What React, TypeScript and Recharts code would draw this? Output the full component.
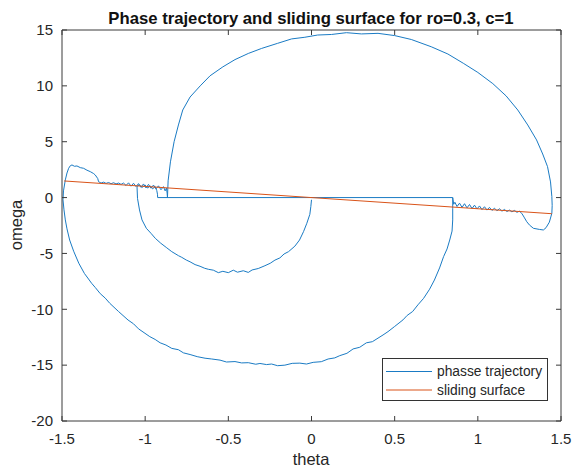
import React from 'react';
import { LineChart, Line, XAxis, YAxis, Legend, Label } from 'recharts';

// ---- tick labels / names ----
const xTicks = [-1.5, -1, -0.5, 0, 0.5, 1, 1.5];
const yTicks = [-20, -15, -10, -5, 0, 5, 10, 15];
const seriesNames = ['phasse trajectory', 'sliding surface'];
const seriesColors = ['#1a7bc4', '#D95319'];

// ---- phase trajectory segments [theta, omega], in drawing order ----
const innerLoop: [number, number][] = [
  [0.0, -0.2], [-0.004, -0.8], [-0.01, -1.5], [-0.028, -2.3], [-0.048, -3.05], [-0.072, -3.8],
  [-0.1, -4.35], [-0.138, -4.84], [-0.165, -5.05], [-0.19, -5.4], [-0.22, -5.6], [-0.248, -5.88],
  [-0.28, -6.1], [-0.32, -6.35], [-0.357, -6.48], [-0.38, -6.7], [-0.41, -6.55], [-0.445, -6.68],
  [-0.47, -6.5], [-0.5, -6.72], [-0.533, -6.6], [-0.56, -6.72], [-0.59, -6.5], [-0.62, -6.42],
  [-0.642, -6.33], [-0.67, -6.15], [-0.7, -6.0], [-0.73, -5.75], [-0.753, -5.59], [-0.78, -5.35],
  [-0.8, -5.2], [-0.84, -4.84], [-0.87, -4.5], [-0.906, -4.09], [-0.939, -3.65], [-0.965, -3.2],
  [-0.993, -2.75], [-1.019, -2.0], [-1.034, -1.11], [-1.046, -0.07], [-1.049, 0.98],
];

const leftSlideA: [number, number][] = [
  [-1.035, 1.15], [-1.02, 0.9], [-1.0, 1.12], [-0.985, 0.85], [-0.97, 1.05], [-0.955, 0.78],
  [-0.94, 0.98], [-0.93, 0.62], [-0.926, 0.3], [-0.925, 0],
];

const lowerArc: [number, number][] = [
  [0.849, 0], [0.849, -1.0], [0.849, -2.0], [0.845, -3.0], [0.831, -3.8], [0.815, -4.6],
  [0.794, -5.29], [0.77, -6.3], [0.739, -7.38], [0.71, -8.2], [0.674, -9.02], [0.64, -9.6],
  [0.608, -10.2], [0.575, -10.55], [0.55, -10.95], [0.498, -11.56], [0.46, -12.0], [0.43, -12.3],
  [0.366, -12.9], [0.33, -13.0], [0.29, -13.4], [0.25, -13.55], [0.213, -13.94], [0.17, -14.15],
  [0.14, -14.35], [0.1, -14.45], [0.059, -14.69], [0.01, -14.75], [-0.03, -14.9], [-0.07, -14.82],
  [-0.116, -14.84], [-0.16, -15.0], [-0.204, -15.05], [-0.24, -14.9], [-0.27, -14.95], [-0.31, -14.85],
  [-0.335, -14.92], [-0.38, -14.78], [-0.42, -14.8], [-0.46, -14.68], [-0.511, -14.72], [-0.55, -14.55],
  [-0.6, -14.45], [-0.64, -14.38], [-0.687, -14.24], [-0.73, -14.05], [-0.77, -13.9], [-0.8, -13.62],
  [-0.84, -13.5], [-0.875, -13.2], [-0.91, -13.0], [-0.94, -12.7], [-0.972, -12.45], [-1.04, -11.75],
  [-1.07, -11.3], [-1.103, -10.96], [-1.16, -10.2], [-1.213, -9.46], [-1.24, -9.0], [-1.27, -8.6],
  [-1.3, -8.05], [-1.322, -7.67], [-1.345, -7.2], [-1.365, -6.8], [-1.399, -5.88], [-1.43, -4.8],
  [-1.454, -3.8], [-1.47, -2.8], [-1.48, -2.0], [-1.488, -1.1], [-1.494, -0.2], [-1.491, 0.6],
  [-1.48, 1.58], [-1.47, 2.2], [-1.46, 2.62], [-1.45, 2.85], [-1.44, 2.92], [-1.425, 2.8],
  [-1.41, 2.83], [-1.39, 2.68], [-1.37, 2.62], [-1.35, 2.45], [-1.33, 2.32], [-1.31, 2.15],
  [-1.3, 2.02], [-1.285, 1.7], [-1.28, 1.42],
];

const leftSlideB: [number, number][] = [
  [-1.265, 1.3], [-1.25, 1.38], [-1.235, 1.27], [-1.22, 1.35], [-1.205, 1.24], [-1.19, 1.33],
  [-1.175, 1.22], [-1.16, 1.3], [-1.145, 1.18], [-1.13, 1.3], [-1.115, 1.08], [-1.1, 1.32],
  [-1.085, 1.02], [-1.07, 1.28], [-1.055, 0.98], [-1.04, 1.25], [-1.025, 0.92], [-1.01, 1.22],
  [-0.995, 0.86], [-0.98, 1.18], [-0.965, 0.84], [-0.95, 1.12], [-0.935, 0.78], [-0.92, 1.05],
  [-0.905, 0.7], [-0.89, 0.98], [-0.88, 0.6], [-0.872, 0.85], [-0.868, 0.4], [-0.866, 0],
];

const upperArc: [number, number][] = [
  [-0.862, 1.5], [-0.848, 3.2], [-0.826, 5.0], [-0.8, 6.5], [-0.774, 7.84], [-0.73, 9.0],
  [-0.669, 10.0], [-0.61, 10.9], [-0.533, 11.7], [-0.46, 12.35], [-0.38, 12.9], [-0.3, 13.35],
  [-0.205, 13.8], [-0.12, 14.2], [-0.04, 14.35], [0.037, 14.55], [0.12, 14.6], [0.21, 14.76],
  [0.3, 14.65], [0.4, 14.7], [0.5, 14.5], [0.6, 14.15], [0.72, 13.5], [0.82, 12.85],
  [0.915, 12.0], [1.0, 11.2], [1.09, 10.2], [1.17, 9.1], [1.24, 7.84], [1.3, 6.5],
  [1.353, 5.16], [1.39, 3.9], [1.419, 2.77], [1.437, 1.4], [1.445, 0.08], [1.447, -0.7],
  [1.445, -1.41], [1.43, -2.2], [1.41, -2.7], [1.394, -2.9], [1.37, -2.85], [1.334, -2.75],
  [1.31, -2.45], [1.294, -2.16], [1.278, -1.75], [1.264, -1.41],
];

const rightSlide: [number, number][] = [
  [1.25, -1.22], [1.235, -1.32], [1.22, -1.15], [1.205, -1.28], [1.19, -1.12], [1.175, -1.25],
  [1.16, -1.06], [1.145, -1.22], [1.13, -1.0], [1.115, -1.18], [1.1, -0.95], [1.085, -1.15],
  [1.07, -0.88], [1.055, -1.12], [1.04, -0.82], [1.025, -1.08], [1.01, -0.75], [0.995, -1.02],
  [0.98, -0.68], [0.965, -0.98], [0.95, -0.62], [0.935, -0.92], [0.92, -0.55], [0.905, -0.88],
  [0.89, -0.5], [0.875, -0.8], [0.862, -0.42], [0.855, -0.6], [0.851, -0.2], [0.849, 0],
];

// ---- sliding surface (omega = -c*theta, c=1) ----
const surfaceTheta = [-1.487, 1.445];
const surfaceOmega = [1.487, -1.445];

const trajectory = [...innerLoop, ...leftSlideA, ...lowerArc, ...leftSlideB, ...upperArc, ...rightSlide].map(
  ([theta, omega]) => ({ theta, omega })
);
const surface = surfaceTheta.map((theta, i) => ({ theta, omega: surfaceOmega[i] }));

const axisColor = '#3a3a3a';
const textColor = '#262626';

const renderLegend = () => (
  <svg width={166} height={43} style={{ display: 'block' }}>
    <rect x={0.5} y={0.5} width={165} height={42} fill="#ffffff" stroke="#333333" strokeWidth={1} />
    {seriesNames.map((name, i) => (
      <g key={name}>
        <line x1={4} x2={50} y1={13.5 + i * 18.5} y2={13.5 + i * 18.5} stroke={seriesColors[i]} strokeWidth={1} />
        <text x={55} y={13.5 + i * 18.5} dy="0.35em" fontSize={13.8} fill={textColor}>
          {name}
        </text>
      </g>
    ))}
  </svg>
);

export default function App() {
  return (
    <div style={{ position: 'absolute', left: 0, top: 0, width: 572, height: 468, background: '#fff', fontFamily: '"Liberation Sans", Arial, sans-serif' }}>
      <LineChart width={572} height={468} margin={{ top: 29, right: 10, bottom: 0, left: 0 }}>
        <XAxis
          xAxisId="bottom"
          dataKey="theta"
          type="number"
          domain={[-1.5, 1.5]}
          ticks={xTicks}
          interval={0}
          allowDataOverflow
          height={47}
          tickSize={-5}
          tickMargin={17}
          stroke={axisColor}
          tick={{ fill: textColor, fontSize: 15 }}
          tickLine={{ stroke: axisColor }}
          axisLine={{ stroke: axisColor }}
          label={
            <Label
              content={() => (
                <text x={311} y={465} textAnchor="middle" fontSize={16.5} fill={textColor}>
                  theta
                </text>
              )}
            />
          }
        />
        <XAxis
          xAxisId="top"
          orientation="top"
          dataKey="theta"
          type="number"
          domain={[-1.5, 1.5]}
          ticks={xTicks}
          interval={0}
          allowDataOverflow
          height={1}
          tickSize={-5}
          tickFormatter={() => ''}
          stroke={axisColor}
          tickLine={{ stroke: axisColor }}
          axisLine={{ stroke: axisColor }}
          label={
            <Label
              content={() => (
                <text x={311} y={24} textAnchor="middle" fontSize={16.7} fontWeight="bold" fill="#111111">
                  Phase trajectory and sliding surface for ro=0.3, c=1
                </text>
              )}
            />
          }
        />
        <YAxis
          yAxisId="left"
          type="number"
          domain={[-20, 15]}
          ticks={yTicks}
          interval={0}
          allowDataOverflow
          width={62}
          tickSize={-5}
          tickMargin={14}
          stroke={axisColor}
          tick={{ fill: textColor, fontSize: 15 }}
          tickLine={{ stroke: axisColor }}
          axisLine={{ stroke: axisColor }}
          label={
            <Label
              content={() => (
                <text x={22} y={225} transform="rotate(-90 22 225)" textAnchor="middle" fontSize={16.5} fill={textColor}>
                  omega
                </text>
              )}
            />
          }
        />
        <YAxis
          yAxisId="right"
          orientation="right"
          type="number"
          domain={[-20, 15]}
          ticks={yTicks}
          interval={0}
          allowDataOverflow
          width={1}
          tickSize={-5}
          tickFormatter={() => ''}
          stroke={axisColor}
          tickLine={{ stroke: axisColor }}
          axisLine={{ stroke: axisColor }}
        />
        <Line
          xAxisId="bottom"
          yAxisId="left"
          data={trajectory}
          dataKey="omega"
          name={seriesNames[0]}
          stroke={seriesColors[0]}
          strokeWidth={1}
          dot={false}
          activeDot={false}
          isAnimationActive={false}
        />
        <Line
          xAxisId="top"
          yAxisId="right"
          data={surface}
          dataKey="omega"
          name={seriesNames[1]}
          stroke={seriesColors[1]}
          strokeWidth={1}
          dot={false}
          activeDot={false}
          isAnimationActive={false}
        />
        <Legend
          layout="horizontal"
          verticalAlign="middle"
          align="center"
          content={renderLegend}
          wrapperStyle={{ left: 382, top: 358, width: 166, height: 43 }}
        />
      </LineChart>
    </div>
  );
}
